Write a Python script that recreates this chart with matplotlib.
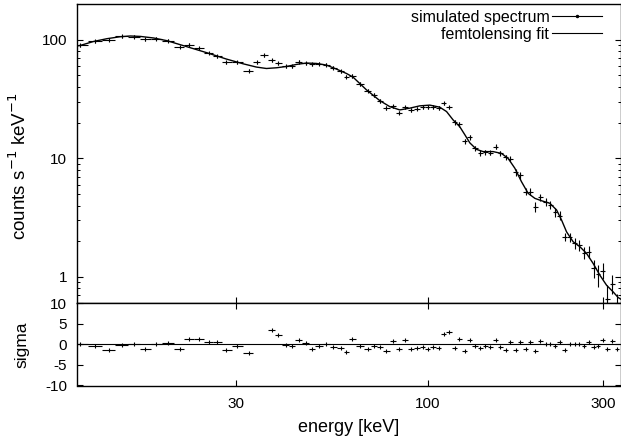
import numpy as np
import matplotlib
matplotlib.use("Agg")
import matplotlib.pyplot as plt
from matplotlib.ticker import FixedLocator, NullLocator, LogLocator, NullFormatter
from matplotlib.lines import Line2D

plt.rcParams['font.family'] = ['Liberation Sans', 'DejaVu Sans']
plt.rcParams['axes.unicode_minus'] = False

# simulated spectrum (bin centres in keV, counts s^-1 keV^-1)
energy = [11.25, 12.37, 13.45, 14.62, 15.80, 16.93, 18.15, 19.48, 21.01, 22.23,
          23.71, 25.2, 26.57, 28.17, 30.1, 32.4, 34.15, 35.6, 37.4, 38.96,
          40.9, 42.5, 44.4, 46.4, 48.3, 50.3, 52.8, 55.06, 57.7, 59.9,
          62.1, 65.4, 68.4, 71.0, 73.8, 77.0, 80.0, 83.2, 86.5, 89.7,
          93.0, 96.7, 99.7, 103.0, 106.8, 110.2, 114.1, 118.3, 121.5, 126.0,
          130.0, 134.1, 138.8, 143.4, 148.0, 152.8, 157.0, 162.7, 167.1, 173.5,
          178.3, 185.1, 190.1, 196.1, 202.4, 209.3, 215.6, 222.5, 228.4, 236.1,
          243.2, 250.9, 258.3, 266.6, 274.1, 284.2, 291.5, 299.2, 308.4, 318.3, 327.5]
counts = [89.5, 96.7, 99.4, 106.6, 106.0, 100.6, 102.0, 98.0, 86.8, 90.7,
          85.1, 77.2, 72.3, 64.3, 64.3, 55.0, 64.8, 74.2, 66.9, 63.6,
          59.5, 59.5, 65.2, 63.1, 62.1, 62.7, 61.5, 58.3, 54.0, 48.7,
          49.7, 42.5, 37.2, 34.1, 30.4, 26.5, 27.4, 24.3, 26.9, 25.6,
          26.3, 27.2, 27.2, 27.2, 26.5, 29.0, 26.9, 20.1, 19.3, 13.9,
          15.0, 12.2, 11.1, 11.3, 11.2, 12.5, 11.0, 10.2, 9.94, 7.60,
          7.24, 5.24, 5.25, 3.91, 4.72, 4.28, 4.04, 3.51, 3.29, 2.19,
          2.16, 1.92, 1.86, 1.60, 1.63, 1.18, 1.05, 1.13, 0.65, 0.88, 0.58]
# relative 1-sigma errors
rel_err = [0.025] * 16 + [0.03] * 14 + [0.035] * 17 + [0.05] * 12 + [0.07] * 4 \
          + [0.10, 0.07, 0.08, 0.08, 0.09, 0.09] + [0.08, 0.09, 0.10, 0.11, 0.12, 0.12] \
          + [0.17, 0.21, 0.15] + [0.31, 0.18, 0.25]

# residuals in sigma (nan = not shown)
sigma = [0.16, -0.5, -1.4, -0.16, 0.0, -1.15, 0.1, 0.25, -1.0, 1.3, 1.3, 0.65, 0.5, -1.4, -0.3, -2.2,
         np.nan, np.nan,
         3.4, 2.2, -0.1, -0.5, 1.15, 0.25, -1.15, -0.5, 0.0, -0.65, -0.9, -1.8, 1.4, -0.3, -1.2,
         -0.5, -0.57, -1.6, 0.8, -1.15, 1.15, -1.07, -0.9, -0.57, -1.15, -0.74, -0.9, 2.6, 2.9,
         -0.8, 1.3, -1.7, 1.07, -0.4, -0.9, -0.3, -0.74, 1.0, -0.65, -1.3, 0.5, -1.3, 0.5, -1.15,
         0.5, -1.6, 0.8, 0.16, 0.16, -0.3, 0.65, -1.3, 0.1, 0.16, 0.16, -0.4, 0.5, -0.74, -0.5,
         1.15, -1.2, 0.8, -1.0]

# femtolensing fit curve
fit_energy = [11.0, 11.25, 12.24, 13.30, 14.47, 15.41, 16.41, 17.84, 19.40, 21.10, 22.94, 24.94,
              28.17, 31.27, 34.02, 36.22, 38.58, 41.08, 43.75, 46.57, 49.6, 52.8, 56.2, 59.9,
              62.4, 67.9, 73.8, 78.6, 83.7, 89.2, 94.9, 101.1, 107.6, 112.3, 117.0, 122.0,
              126.0, 130.0, 135.6, 141.3, 150.4, 158.6, 165.3, 172.5, 179.8, 187.5, 195.6,
              204.0, 214.9, 224.2, 231.3, 238.7, 248.8, 259.5, 270.6, 282.1, 294.2, 306.9,
              319.9, 330.1, 335.7]
fit_counts = [88.5, 89.5, 96.7, 102.0, 106.0, 107.5, 106.6, 103.4, 98.1, 90.7, 83.9, 77.6,
              68.7, 62.7, 58.8, 57.2, 58.0, 59.5, 61.9, 63.6, 63.1, 61.1, 56.6, 51.9,
              48.4, 37.8, 30.7, 27.3, 25.6, 26.5, 27.7, 28.1, 27.0, 24.8, 21.1, 18.5,
              15.8, 13.5, 11.9, 11.4, 11.4, 11.0, 10.0, 8.25, 6.36, 5.07, 4.60,
              4.39, 4.18, 3.67, 3.02, 2.40, 1.98, 1.80, 1.58, 1.30, 1.036, 0.852,
              0.748, 0.671, 0.65]

E = np.array(energy)
C = np.array(counts)
yerr = C * np.array(rel_err)

# bin edges halfway (in log) between neighbouring channels
logE = np.log10(E)
mids = (logE[1:] + logE[:-1]) / 2
lo = 10 ** np.concatenate([[2 * logE[0] - mids[0]], mids])
hi = 10 ** np.concatenate([mids, [2 * logE[-1] - mids[-1]]])
xerr = [E - lo, hi - E]

fig = plt.figure(figsize=(6.21, 4.41), dpi=100)
W, H = 621.0, 441.0
left, right = 76.7 / W, 1.0
ax1 = fig.add_axes([left, 1 - 303.3 / H, right - left, (303.3 - 4) / H])
ax2 = fig.add_axes([left, 1 - 385.5 / H, right - left, (385.5 - 303.3) / H])

ax1.errorbar(E, C, xerr=xerr, yerr=yerr, fmt='|', color='black', ms=3, mew=0.8,
             elinewidth=0.8, capsize=0)
ax1.plot(fit_energy, fit_counts, color='black', lw=1.0)
ax1.set_xscale('log')
ax1.set_yscale('log')
ax1.set_xlim(11, 336)
ax1.set_ylim(0.6, 200)

ax2.errorbar(E, sigma, xerr=xerr, fmt='|', color='black', ms=3, mew=0.8,
             elinewidth=0.8, capsize=0)
ax2.axhline(0, color='black', lw=0.8)
ax2.set_xscale('log')
ax2.set_xlim(11, 336)
ax2.set_ylim(-10, 10)

for ax in (ax1, ax2):
    for sp in ax.spines.values():
        sp.set_linewidth(1.0)
    ax.xaxis.set_major_locator(FixedLocator([30, 100, 300]))
    ax.xaxis.set_minor_locator(NullLocator())
    ax.tick_params(which='major', direction='in', length=4.5, width=0.8, labelsize=11, pad=7)
    ax.tick_params(which='minor', direction='in', length=2.3, width=0.7)
    ax.tick_params(axis='y', left=True, right=True, which='both')

ax1.yaxis.set_major_locator(FixedLocator([1, 10, 100]))
ax1.yaxis.set_minor_locator(LogLocator(base=10, subs=np.arange(2, 10)))
ax1.yaxis.set_minor_formatter(NullFormatter())
ax1.set_yticklabels(['1', '10', '100'])
ax1.tick_params(axis='x', top=False, bottom=True, labelbottom=False)

ax2.set_yticks([-10, -5, 0, 5, 10])
ax2.set_xticklabels(['30', '100', '300'])
ax2.tick_params(axis='x', top=True, bottom=True, pad=8)

fig.text(19 / W, 1 - 166 / H, 'counts s$^{-1}$ keV$^{-1}$', rotation=90,
         ha='center', va='center', fontsize=13.5)
fig.text(22 / W, 1 - 345 / H, 'sigma', rotation=90, ha='center', va='center', fontsize=12.5)
fig.text(349 / W, 1 - 427 / H, 'energy [keV]', ha='center', va='center', fontsize=13)

handles = [Line2D([], [], color='black', lw=0.8, marker='.', ms=3),
           Line2D([], [], color='black', lw=0.8)]
ax1.legend(handles, ['simulated spectrum', 'femtolensing fit'], loc='upper right',
           bbox_to_anchor=(602 / W, 1 - 10 / H), bbox_transform=fig.transFigure,
           frameon=False, markerfirst=False, fontsize=11.5, handlelength=3.1,
           handletextpad=0.2, labelspacing=0.1, borderpad=0, borderaxespad=0)

fig.savefig('out.png', dpi=100)
